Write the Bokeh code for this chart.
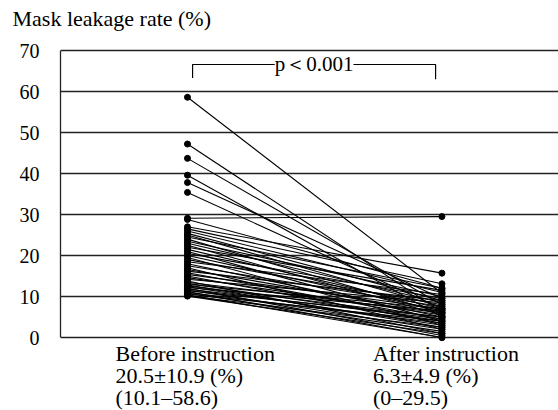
from bokeh.plotting import figure
from bokeh.models import Label, FixedTicker
from bokeh.embed import file_html
from bokeh.resources import INLINE

# ---- data ----
categories = ["Before instruction", "After instruction"]
summary_mean = ["20.5\u00b110.9 (%)", "6.3\u00b14.9 (%)"]
summary_range = ["(10.1\u201358.6)", "(0\u201329.5)"]

before = [58.6, 47.2, 43.7, 39.6, 37.8, 35.4, 29.1, 28.8, 27.0,
          26.5, 26.0, 25.4, 25.0, 24.5, 24.0, 23.5, 23.0, 22.5, 22.0,
          21.5, 21.0, 20.5, 20.0, 19.5, 19.0, 18.5, 18.0, 17.5, 17.0,
          16.6, 16.2, 15.8, 15.4, 15.0, 14.6, 14.2, 13.8, 13.5, 13.2,
          13.0, 12.8, 12.6, 12.4, 12.2, 12.0, 11.8, 11.6, 11.4, 11.2,
          11.0, 10.8, 10.6, 10.4, 10.2, 10.1]
after = [10.8, 6.2, 8.0, 5.0, 9.5, 7.0, 29.5, 12.0, 15.7,
         13.1, 11.0, 9.0, 7.5, 12.0, 6.0, 10.0, 8.5, 5.5, 11.5,
         7.0, 4.0, 9.5, 6.5, 3.0, 8.0, 10.5, 5.0, 7.5, 2.0,
         6.0, 9.0, 4.5, 7.0, 3.5, 5.5, 8.5, 1.0, 6.0, 4.0,
         7.0, 2.5, 5.0, 3.0, 6.5, 0.5, 4.5, 2.0, 5.0, 0.0,
         3.5, 1.5, 4.0, 0.0, 2.5, 1.0]
y_ticks = [0, 10, 20, 30, 40, 50, 60, 70]
y_title = "Mask leakage rate (%)"
p_text = "p\uff1c0.001"

FONT = "Liberation Serif"
xpos = list(range(len(categories)))

# frame spans from just below the title to the bottom of the canvas,
# so the category captions below the zero line stay inside it
p = figure(width=558, height=410, output_backend="svg", toolbar_location=None,
           x_range=(-0.499, 1.458), y_range=(-17.8, 74.4),
           min_border_left=60, min_border_right=0, min_border_top=32,
           min_border_bottom=0, title=y_title)
p.outline_line_color = None
p.background_fill_color = "white"

p.title.text_font = FONT
p.title.text_font_size = "22px"
p.title.text_font_style = "normal"
p.title.text_color = "black"
p.title.align = "left"
p.title.offset = -48
p.title.standoff = 4

# y axis
p.yaxis.ticker = FixedTicker(ticks=y_ticks)
p.yaxis.bounds = (y_ticks[0], y_ticks[-1])
p.yaxis.major_label_text_font = FONT
p.yaxis.major_label_text_font_size = "20px"
p.yaxis.major_label_text_color = "black"
p.yaxis.major_tick_line_color = None
p.yaxis.minor_tick_line_color = None
p.yaxis.axis_line_color = "#222222"
p.yaxis.axis_line_width = 1.3
p.yaxis.major_label_standoff = 15
p.ygrid.grid_line_color = "#222222"
p.ygrid.grid_line_width = 1.3
p.xgrid.visible = False
p.xaxis.visible = False

# paired lines
xs = [[xpos[0], xpos[1]] for _ in before]
ys = [[b, a] for b, a in zip(before, after)]
p.multi_line(xs=xs, ys=ys, line_color="black", line_width=1.1)
p.scatter([xpos[0]] * len(before), before, size=6, color="black")
p.scatter([xpos[1]] * len(after), after, size=6, color="black")

# significance bracket
bx0, bx1 = 0.02, 0.975
p.line([bx0, bx0, bx1, bx1], [63.3, 66.6, 66.6, 63.0], line_color="black", line_width=1.2)
p.add_layout(Label(x=(bx0 + bx1) / 2, y=66.6, text=p_text, text_align="center",
                   text_baseline="middle", text_font=FONT, text_font_size="21px",
                   text_color="black", background_fill_color="white"))

# category captions (left-aligned block under each column)
offsets = [-72, -69]
line_y = [-3.9, -9.27, -14.63]
for i, x in enumerate(xpos):
    for txt, yy in zip([categories[i], summary_mean[i], summary_range[i]], line_y):
        p.add_layout(Label(x=x, y=yy, x_offset=offsets[i], text=txt,
                           text_align="left", text_baseline="middle",
                           text_font=FONT, text_font_size="22px",
                           text_color="black"))

open("out.html", "w").write(file_html(p, INLINE))
